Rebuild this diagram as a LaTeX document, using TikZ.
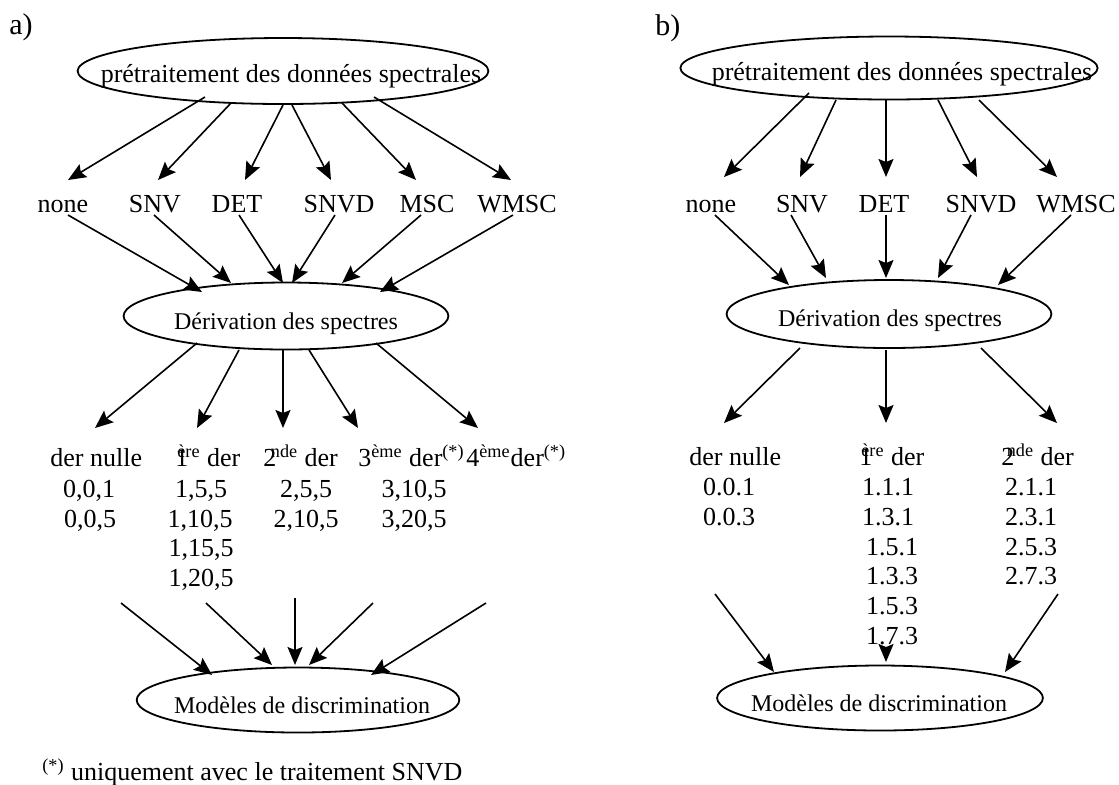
\documentclass[tikz,border=0pt]{standalone}
\usepackage{fontspec}
\setmainfont{Liberation Serif}
\usetikzlibrary{arrows.meta,shapes.geometric}
\begin{document}
\begin{tikzpicture}[x=0.5pt,y=-0.5pt,
  ell/.style={draw, ellipse, line width=0.9pt, inner sep=0pt},
  lab/.style={font=\fontsize{13}{15}\selectfont, inner sep=0pt, anchor=base},
  labw/.style={font=\fontsize{13}{15}\selectfont, inner sep=0pt, anchor=base west},
  etxt/.style={font=\fontsize{12}{14}\selectfont, inner sep=0pt, anchor=base},
  arr/.style={-{Stealth[length=9pt,width=7.5pt,inset=1.5pt]}, line width=0.8pt}]
\useasboundingbox (0,0) rectangle (1119,784);

% panel labels
\node[labw, font=\fontsize{15}{17}\selectfont] (pa) at (9,34) {a)};
\node[labw, font=\fontsize{15}{17}\selectfont] (pb) at (655,35) {b)};

% ---------- panel a ----------
\node[ell, minimum width=205.4pt, minimum height=33pt] (a1) at (283,71) {};
\node[lab] (ta1) at (291,82) {prétraitement des données spectrales};
\node[ell, minimum width=162.4pt, minimum height=33.5pt] (a2) at (286,316) {};
\node[etxt] (ta2) at (286,329) {Dérivation des spectres};
\node[ell, minimum width=161.3pt, minimum height=32.5pt] (a3) at (298,700) {};
\node[etxt] (ta3) at (302,713) {Modèles de discrimination};

\foreach \n/\x/\t in {anone/63/none, asnv/155/SNV, adet/237/DET, asnvd/339/SNVD, amsc/427/MSC, awmsc/517/WMSC}
  \node[lab] (\n) at (\x,212) {\t};

\node[labw] (ah0) at (50,466) {der nulle};
\node[labw] (ah1) at (175,466) {1\hspace{-5.5pt}\textsuperscript{ère} der};
\node[labw] (ah2) at (263,466) {2\hspace{-2.75pt}\textsuperscript{nde} der};
\node[labw] (ah3) at (358,466) {3\textsuperscript{ème} der\textsuperscript{(*)}};
\node[labw] (ah4) at (466,466) {4\textsuperscript{ème}der\textsuperscript{(*)}};

\foreach \n/\x/\y/\t in {an1/89/497/{0,0,1}, an2/90/527/{0,0,5},
   an3/201/497/{1,5,5}, an4/200/527/{1,10,5}, an5/201/556/{1,15,5}, an6/201/586/{1,20,5},
   an7/306/497/{2,5,5}, an8/306/527/{2,10,5},
   an9/414/497/{3,10,5}, an10/414/527/{3,20,5}}
  \node[lab] (\n) at (\x,\y) {\t};

% ---------- panel b ----------
\node[ell, minimum width=208.6pt, minimum height=31.5pt] (b1) at (889,68) {};
\node[lab] (tb1) at (902,80) {prétraitement des données spectrales};
\node[ell, minimum width=162.4pt, minimum height=34pt] (b2) at (889,314) {};
\node[etxt] (tb2) at (890,326) {Dérivation des spectres};
\node[ell, minimum width=162.9pt, minimum height=32.5pt] (b3) at (880,698) {};
\node[etxt] (tb3) at (879,711) {Modèles de discrimination};

\foreach \n/\x/\t in {bnone/711/none, bsnv/802/SNV, bdet/884/DET, bsnvd/981/SNVD, bwmsc/1076/WMSC}
  \node[lab] (\n) at (\x,212) {\t};

\node[labw] (bh0) at (689,465) {der nulle};
\node[labw] (bh1) at (859,465) {1\hspace{-5.5pt}\textsuperscript{ère} der};
\node[labw] (bh2) at (1001,465) {2\hspace{-3.8pt}\textsuperscript{nde} der};

\foreach \n/\x/\y/\t in {bn1/729/495/0.0.1, bn2/729/525/0.0.3,
   bn3/888/495/1.1.1, bn4/888/525/1.3.1, bn5/892/555/1.5.1, bn6/892/584/1.3.3, bn7/892/614/1.5.3, bn8/892/644/1.7.3,
   bn9/1031/495/2.1.1, bn10/1031/525/2.3.1, bn11/1031/555/2.5.3, bn12/1031/584/2.7.3}
  \node[lab] (\n) at (\x,\y) {\t};

% footnote
\node[labw] (fn) at (42,780) {\textsuperscript{(*)} uniquement avec le traitement SNVD};

% ---------- connector end points ----------
\foreach \n/\x/\y in {
  % panel a, top
  s1/205/97, e1/68/180, s2/231/103, e2/158/180, s3/283/105, e3/245/180,
  s4/292/105, e4/331/180, s5/342/103, e5/416/180, s6/374/97, e6/511/180,
  % panel a, middle
  s7/68/215, e7/202/292, s8/154/215, e8/231/283, s9/239/215, e9/283/283,
  s10/335/215, e10/292/283, s11/421/215, e11/342/283, s12/513/215, e12/380/292,
  % panel a, down
  s13/197/343, e13/95/428, s14/239/350, e14/197/428, s15/283/350, e15/283/428,
  s16/309/350, e16/358/428, s17/376/343, e17/478/428,
  % panel a, bottom
  s18/121/603, e18/212/675, s19/206/603, e19/272/665, s20/295/598, e20/295/665,
  s21/373/603, e21/309/665, s22/486/603, e22/371/675,
  % panel b, top
  s23/809/93, e23/724/177, s24/836/100, e24/800/177, s25/886/100, e25/886/177,
  s26/938/100, e26/977/177, s27/979/100, e27/1057/177,
  % panel b, middle
  s28/715/215, e28/789/285, s29/791/215, e29/826/278, s30/886/215, e30/886/278,
  s31/971/215, e31/938/278, s32/1071/215, e32/998/285,
  % panel b, down
  s33/800/348, e33/724/423, s34/886/350, e34/886/423, s35/981/348, e35/1057/423,
  % panel b, bottom
  s36/715/594, e36/774/672, s37/886/647, e37/886/662, s38/1058/594, e38/1005/672}
  \coordinate (\n) at (\x,\y);

\foreach \i in {1,...,38}
  \draw[arr] (s\i) -- (e\i);
\end{tikzpicture}
\end{document}
